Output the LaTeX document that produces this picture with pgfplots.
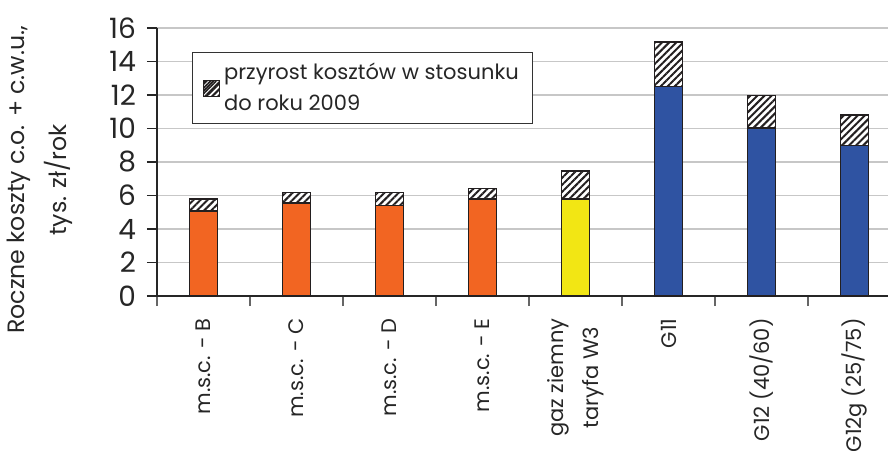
\documentclass[border=0pt]{standalone}
\usepackage{fontspec}
\setmainfont{Poppins}
\usepackage{pgfplots}
\pgfplotsset{compat=1.18}
\usetikzlibrary{patterns.meta}
\definecolor{orng}{RGB}{242,101,34}
\definecolor{yel}{RGB}{242,230,20}
\definecolor{blu}{RGB}{47,83,162}
\definecolor{edge}{RGB}{35,31,32}
\begin{document}
\begin{tikzpicture}
\begin{axis}[
  scale only axis, width=365.5pt, height=134pt,
  xmin=-0.5, xmax=7.36, ymin=0, ymax=16,
  ytick={0,2,...,16},
  axis x line*=bottom, axis y line*=left,
  axis line style={draw=black!85, line width=0.8pt},
  ymajorgrids, grid style={draw=black!22, line width=0.8pt},
  xtick={0,...,7},
  xticklabels={m.s.c. - B, m.s.c. - C, m.s.c. - D, m.s.c. - E, {gaz ziemny\\[5pt]taryfa W3}, G11, G12 (40/60), G12g (25/75)},
  minor xtick={-0.5,0.5,...,6.5},
  tick align=outside,
  major x tick style={draw=none},
  minor x tick style={draw=black!60, line width=0.8pt},
  minor tick length=5pt,
  major tick length=5pt,
  y tick style={draw=black!85, line width=0.8pt},
  /pgf/number format/assume math mode=true,
  yticklabel style={font=\fontsize{14}{14}\selectfont, text=black!85, xshift=-2pt},
  xticklabel style={font=\fontsize{10.5}{12.6}\selectfont, text=black!85, rotate=90, anchor=east, align=center, inner xsep=6pt},
  ylabel={Roczne koszty c.o. + c.w.u.,\\[6pt]tys. zł/rok},
  ylabel style={font=\fontsize{11.8}{14}\selectfont, text=black!85, align=center, at={(axis description cs:-0.16,0.433)}, anchor=center},
  legend style={at={(axis description cs:0.0479,0.910)}, anchor=north west, draw=black!80, line width=0.6pt,
    font=\fontsize{10.5}{12.6}\selectfont, text=black!85, cells={anchor=west, align=left}, inner xsep=5pt, inner ysep=3pt},
  bar width=0.3, bar shift=0pt,
]
\addplot[ybar, draw=edge, line width=0.8pt, fill=white,
  postaction={pattern={Lines[angle=45,distance=2.5pt,line width=1pt]}, pattern color=edge},
  legend image code/.code={\draw[draw=edge, line width=0.6pt, fill=white, postaction={pattern={Lines[angle=45,distance=2pt,line width=0.8pt]}, pattern color=edge}] (0pt,-4pt) rectangle (8pt,4pt);}]
  coordinates {(0,5.80) (1,6.18) (2,6.18) (3,6.42) (4,7.47) (5,15.18) (6,11.97) (7,10.79)};
\addlegendentry{przyrost kosztów w stosunku\\[3pt]do roku 2009}
\addplot[ybar, draw=edge, line width=0.8pt, fill=orng, forget plot]
  coordinates {(0,5.08) (1,5.54) (2,5.40) (3,5.78)};
\addplot[ybar, draw=edge, line width=0.8pt, fill=yel, forget plot]
  coordinates {(4,5.78)};
\addplot[ybar, draw=edge, line width=0.8pt, fill=blu, forget plot]
  coordinates {(5,12.51) (6,10.02) (7,8.98)};
\end{axis}
\pgfresetboundingbox
\useasboundingbox (-78.5pt,-77pt) rectangle (365.5pt,148pt);
\end{tikzpicture}
\end{document}
